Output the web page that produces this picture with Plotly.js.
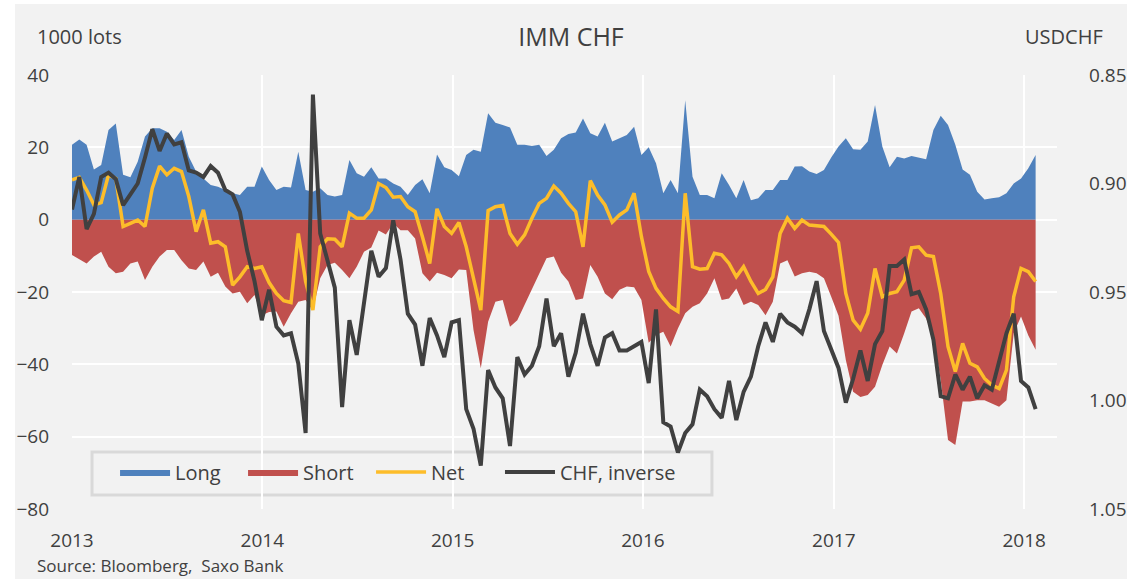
<!DOCTYPE html>
<html>
<head>
<meta charset="utf-8">
<script src="https://cdn.plot.ly/plotly-3.0.1.min.js"></script>
<style>
  html, body { margin: 0; padding: 0; background: #ffffff; }
  #chart { position: absolute; left: 15px; top: 4px; width: 1112px; height: 575px; }
</style>
</head>
<body>
<div id="chart"></div>
<script>
// Bi-weekly observations starting 2013-01-01
const startDate = "2013-01-01";
const stepDays = 14;

// Long positions (1000 lots)
const longPos = [
  20.7, 22.2, 20.7, 13.9, 15.1, 24.8, 26.6, 12.4, 11.7, 16.0,
  23.0, 25.3, 25.3, 24.3, 22.0, 24.8, 17.4, 13.3, 11.4, 9.6,
  9.1, 8.2, 7.3, 6.8, 9.1, 9.1, 14.7, 11.0, 8.2, 9.1,
  8.9, 18.8, 8.2, 7.7, 8.7, 6.8, 6.4, 6.8, 16.5, 12.8,
  11.9, 14.5, 11.4, 11.4, 10.0, 9.1, 6.8, 9.6, 11.2, 7.3,
  18.0, 14.5, 13.7, 12.0, 17.9, 19.3, 18.8, 29.4, 26.8, 26.2,
  25.5, 20.7, 20.7, 20.4, 20.7, 17.6, 19.3, 22.5, 23.7, 24.1,
  28.0, 23.9, 23.0, 26.8, 21.6, 22.5, 23.4, 25.7, 17.9, 20.0,
  15.6, 7.3, 11.0, 7.3, 33.0, 11.9, 6.8, 6.8, 5.9, 12.8,
  9.6, 5.9, 11.0, 5.4, 5.9, 8.2, 8.2, 11.0, 11.0, 14.7,
  14.8, 13.3, 12.6, 13.7, 17.2, 20.2, 22.5, 19.5, 19.3, 21.6,
  31.7, 20.2, 14.5, 17.4, 16.9, 17.6, 17.2, 16.7, 24.8, 28.7,
  26.2, 20.7, 13.9, 12.4, 7.7, 5.6, 5.9, 6.2, 7.3, 10.0,
  11.4, 14.2, 17.9
];

// Short positions (1000 lots)
const shortPos = [
  -9.8, -11.0, -12.1, -10.2, -8.9, -13.0, -14.8, -14.4, -12.1, -11.6,
  -16.7, -13.0, -10.2, -8.4, -8.4, -11.2, -13.5, -13.9, -11.6, -15.8,
  -14.7, -18.5, -20.4, -19.9, -23.1, -20.8, -26.4, -25.5, -25.4, -29.6,
  -25.9, -22.7, -22.2, -25.0, -16.2, -12.5, -11.9, -13.9, -16.2, -13.0,
  -8.9, -7.7, -3.0, -4.1, -1.0, -2.9, -2.9, -5.2, -14.8, -17.1,
  -14.7, -15.3, -16.2, -13.8, -13.9, -30.5, -41.1, -28.2, -22.7, -22.2,
  -29.6, -27.8, -23.6, -19.4, -14.8, -10.7, -10.2, -14.7, -17.1, -22.2,
  -21.8, -12.5, -15.8, -20.4, -22.0, -19.4, -18.5, -18.7, -22.2, -34.0,
  -31.9, -31.0, -35.1, -30.1, -25.9, -24.1, -23.1, -20.4, -16.2, -22.2,
  -21.8, -19.0, -23.6, -22.7, -23.6, -26.4, -22.7, -12.1, -11.2, -15.7,
  -14.8, -14.4, -14.8, -16.2, -21.3, -26.6, -38.8, -47.6, -49.0, -48.5,
  -46.2, -40.2, -35.1, -37.0, -31.4, -25.4, -24.5, -27.3, -32.4, -44.3,
  -60.9, -62.3, -50.3, -50.3, -49.9, -49.9, -50.8, -51.7, -49.9, -31.4,
  -26.8, -32.0, -36.0
];

// Net positions (1000 lots)
const netPos = [
  11.0, 11.7, 8.2, 4.1, 4.7, 12.4, 11.4, -1.9, -1.0, -0.1,
  -1.9, 8.7, 14.8, 12.4, 14.2, 13.3, 6.4, -3.3, 2.7, -6.5,
  -6.1, -7.5, -18.1, -15.8, -13.0, -13.5, -13.0, -17.4, -20.4, -22.4,
  -22.9, -3.8, -17.1, -25.0, -7.5, -5.3, -5.4, -7.5, 1.8, 0.4,
  0.4, 2.7, 10.0, 8.9, 6.2, 6.4, 3.6, 2.2, -4.7, -12.1,
  3.0, -1.9, -3.8, -0.8, -7.5, -16.2, -25.0, 2.5, 3.6, 3.9,
  -3.8, -6.8, -4.2, 0.4, 4.5, 5.9, 9.3, 7.3, 4.5, 2.2,
  -7.5, 10.8, 6.8, 4.1, -0.7, 1.3, 2.7, 7.3, -4.7, -14.3,
  -19.0, -21.8, -24.1, -25.4, 7.3, -13.0, -13.7, -13.5, -9.3, -9.7,
  -12.1, -15.8, -13.0, -17.1, -20.4, -19.3, -15.8, -3.8, 0.4, -2.4,
  -0.1, -1.5, -1.8, -1.9, -4.0, -6.3, -20.4, -27.8, -30.3, -25.9,
  -13.5, -21.3, -20.4, -19.9, -16.7, -7.8, -7.5, -9.8, -10.2, -20.4,
  -35.1, -42.0, -34.2, -39.7, -40.7, -43.9, -45.7, -46.7, -41.6, -21.3,
  -13.5, -14.4, -17.1
];

// USDCHF (plotted on inverted right axis)
const usdchf = [
  0.912, 0.897, 0.921, 0.914, 0.897, 0.895, 0.898, 0.910, 0.905, 0.900,
  0.888, 0.875, 0.885, 0.877, 0.882, 0.881, 0.894, 0.895, 0.897, 0.892,
  0.895, 0.903, 0.905, 0.913, 0.931, 0.945, 0.963, 0.949, 0.966, 0.970,
  0.969, 0.983, 1.015, 0.859, 0.923, 0.936, 0.948, 1.003, 0.963, 0.979,
  0.954, 0.931, 0.943, 0.939, 0.917, 0.935, 0.960, 0.965, 0.984, 0.962,
  0.970, 0.980, 0.964, 0.963, 1.004, 1.013, 1.030, 0.986, 0.994, 0.999,
  1.021, 0.980, 0.988, 0.984, 0.975, 0.953, 0.975, 0.969, 0.989, 0.978,
  0.960, 0.974, 0.984, 0.971, 0.969, 0.977, 0.977, 0.975, 0.973, 0.992,
  0.958, 1.010, 1.012, 1.024, 1.015, 1.011, 0.995, 0.998, 1.004, 1.008,
  0.991, 1.009, 0.996, 0.989, 0.975, 0.964, 0.973, 0.960, 0.964, 0.966,
  0.969, 0.958, 0.945, 0.968, 0.977, 0.985, 1.001, 0.990, 0.977, 0.991,
  0.974, 0.968, 0.938, 0.938, 0.935, 0.951, 0.950, 0.958, 0.972, 0.998,
  0.999, 0.988, 0.995, 0.989, 0.999, 0.993, 0.995, 0.982, 0.969, 0.960,
  0.991, 0.994, 1.004
];

const leftTicks = [40, 20, 0, -20, -40, -60, -80];
const rightTickVals = [0.85, 0.90, 0.95, 1.00, 1.05];
const rightTickText = ["0.85", "0.90", "0.95", "1.00", "1.05"];
const seriesNames = ["Long", "Short", "Net", "CHF, inverse"];

const t0 = Date.parse(startDate + "T00:00:00Z");
const dates = longPos.map((_, i) => new Date(t0 + i * stepDays * 86400000).toISOString().slice(0, 10));

const txtColor = "#404040";
const fontFam = "'Open Sans', 'Noto Sans', sans-serif";

const traces = [
  { x: dates, y: longPos, name: seriesNames[0], type: "scatter", mode: "lines",
    fill: "tozeroy", fillcolor: "#4f81bd", line: { width: 0, color: "#4f81bd" } },
  { x: dates, y: shortPos, name: seriesNames[1], type: "scatter", mode: "lines",
    fill: "tozeroy", fillcolor: "#c0504d", line: { width: 0, color: "#c0504d" } },
  { x: dates, y: netPos, name: seriesNames[2], type: "scatter", mode: "lines",
    line: { width: 3.5, color: "#fdbd2a" } },
  { x: dates, y: usdchf, name: seriesNames[3], type: "scatter", mode: "lines", yaxis: "y2",
    legend: "legend2", line: { width: 4, color: "#404040" } }
];

const legendCommon = {
  orientation: "h", y: 0.13, xanchor: "left", yanchor: "top",
  bgcolor: "rgba(0,0,0,0)", borderwidth: 0,
  font: { size: 20, color: txtColor }, itemwidth: 50
};

const layout = {
  width: 1112, height: 575,
  margin: { l: 57, r: 70, t: 71, b: 70 },
  paper_bgcolor: "#f2f2f2",
  plot_bgcolor: "#f2f2f2",
  font: { family: fontFam, color: txtColor, size: 20 },
  showlegend: true,
  title: { text: "IMM CHF", font: { size: 25, color: txtColor, family: fontFam },
           x: 0.5, xref: "container", y: 0.943, yref: "container", yanchor: "middle", xanchor: "center" },
  xaxis: {
    type: "date",
    range: ["2013-01-01", "2018-03-05"],
    dtick: "M12", tick0: "2013-01-01", tickformat: "%Y",
    showgrid: true, gridcolor: "#ffffff", gridwidth: 2,
    zeroline: false, showline: false, ticks: "",
    tickfont: { size: 19, color: txtColor },
    ticklabelstandoff: 18
  },
  yaxis: {
    range: [-80, 40], tickvals: leftTicks,
    showgrid: true, gridcolor: "#ffffff", gridwidth: 2,
    zeroline: false, showline: false, ticks: "",
    tickfont: { size: 19, color: txtColor },
    ticklabelstandoff: 22
  },
  yaxis2: {
    overlaying: "y", side: "right",
    range: [1.05, 0.85], tickvals: rightTickVals, ticktext: rightTickText,
    showgrid: false, zeroline: false, showline: false, ticks: "",
    tickfont: { size: 19, color: txtColor },
    ticklabelstandoff: 31
  },
  legend: Object.assign({}, legendCommon, { x: 0.0437, entrywidth: 63, entrywidthmode: "pixels", traceorder: "normal" }),
  legend2: Object.assign({}, legendCommon, { x: 0.4345 }),
  shapes: [
    { type: "rect", xref: "paper", yref: "paper", x0: 0.0203, x1: 0.6497, y0: 0.0323, y1: 0.1313,
      line: { color: "#d9d9d9", width: 3 }, fillcolor: "rgba(0,0,0,0)", layer: "below" }
  ],
  annotations: [
    { text: "1000 lots", xref: "paper", yref: "paper", x: -0.0376, y: 1.088,
      xanchor: "left", yanchor: "middle", showarrow: false, font: { size: 20, color: txtColor } },
    { text: "USDCHF", xref: "paper", yref: "paper", x: 1.0487, y: 1.088,
      xanchor: "right", yanchor: "middle", showarrow: false, font: { size: 20, color: txtColor } },
    { text: "Source: Bloomberg,&nbsp; Saxo Bank", xref: "paper", yref: "paper", x: -0.0376, y: -0.131,
      xanchor: "left", yanchor: "middle", showarrow: false, font: { size: 17, color: txtColor } }
  ]
};

Plotly.newPlot("chart", traces, layout, { displayModeBar: false, staticPlot: true });
</script>
</body>
</html>
